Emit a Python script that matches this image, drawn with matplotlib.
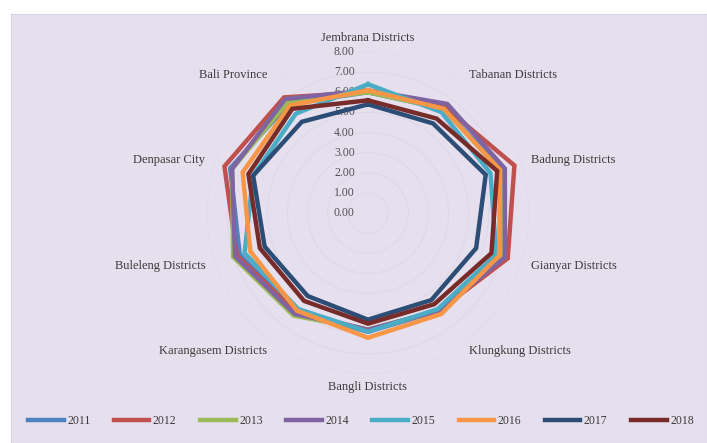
import numpy as np
import matplotlib
matplotlib.use("Agg")
import matplotlib.pyplot as plt
from matplotlib.patches import Rectangle

categories = ["Jembrana Districts", "Tabanan Districts", "Badung Districts", "Gianyar Districts",
              "Klungkung Districts", "Bangli Districts", "Karangasem Districts", "Buleleng Districts",
              "Denpasar City", "Bali Province"]
years = ["2011", "2012", "2013", "2014", "2015", "2016", "2017", "2018"]

v2011 = [6.0, 6.4, 7.0, 7.0, 6.0, 5.9, 6.1, 6.7, 7.2, 6.7]
v2012 = [6.0, 6.5, 7.65, 7.3, 6.0, 5.8, 6.1, 6.85, 7.5, 7.1]
v2013 = [6.0, 6.4, 6.9, 7.0, 6.0, 5.8, 6.3, 7.05, 7.1, 6.8]
v2014 = [6.1, 6.7, 7.15, 7.15, 6.0, 5.8, 6.2, 6.95, 7.1, 7.0]
v2015 = [6.4, 6.2, 6.4, 6.7, 5.9, 5.9, 5.9, 6.45, 6.0, 6.1]
v2016 = [6.1, 6.4, 6.9, 6.85, 6.2, 6.2, 6.0, 6.15, 6.55, 6.6]
v2017 = [5.4, 5.5, 6.15, 5.65, 5.35, 5.3, 5.1, 5.4, 6.0, 5.6]
v2018 = [5.6, 5.8, 6.75, 6.45, 5.6, 5.5, 5.4, 5.65, 6.25, 6.4]
series = [v2011, v2012, v2013, v2014, v2015, v2016, v2017, v2018]
ticks = [0, 1, 2, 3, 4, 5, 6, 7, 8]
tick_labels = ["0.00", "1.00", "2.00", "3.00", "4.00", "5.00", "6.00", "7.00", "8.00"]

colors = ["#4F81BD", "#C0504D", "#9BBB59", "#8064A2", "#4BACC6", "#F79646", "#2C4D75", "#772C2A"]

plt.rcParams['font.family'] = ['Liberation Serif', 'DejaVu Serif']

W, H = 707, 443
fig = plt.figure(figsize=(W / 100, H / 100), dpi=100)
fig.patch.set_facecolor("white")
bg = "#E6E0EE"
fig.add_artist(Rectangle((11 / W, 0), 1 - 11 / W, 1 - 14 / H, transform=fig.transFigure,
                         facecolor=bg, edgecolor="#D8D2E2", lw=0.8, zorder=-10))

cx, cy, R = 368, 213, 161
ax = fig.add_axes([(cx - R) / W, (H - cy - R) / H, 2 * R / W, 2 * R / H], projection="polar")
ax.set_facecolor("none")
ax.set_theta_offset(np.pi / 2)
ax.set_theta_direction(-1)
ax.set_ylim(0, 8)
ax.spines["polar"].set_visible(False)
ax.set_xticks([])
ax.set_yticks(ticks[1:])
ax.set_yticklabels([])
ax.yaxis.grid(True, color="#DDD7E7", lw=0.7)
ax.xaxis.grid(False)

n = len(categories)
angles = np.arange(n) * 2 * np.pi / n
ang_closed = np.concatenate([angles, angles[:1]])

for vals, col, yr in zip(series, colors, years):
    v = np.asarray(vals + vals[:1])
    ax.plot(ang_closed, v, color=col, lw=3.2, label=yr, solid_joinstyle="miter", zorder=3)

for t, lab in zip(ticks, tick_labels):
    ax.annotate(lab, xy=(0, t), xytext=(-17, 0), textcoords="offset points",
                ha="center", va="center", fontsize=8.5, color="#505050", zorder=2)

label_r = 8.5
for a, lab in zip(angles, categories):
    deg = np.degrees(a) % 360
    if deg < 1 or abs(deg - 180) < 1:
        ha = "center"
    elif deg < 180:
        ha = "left"
    else:
        ha = "right"
    r = label_r
    va = "center"
    if deg < 1:
        va = "bottom"
        r = 8.42
    elif abs(deg - 180) < 1:
        va = "top"
        r = 8.35
    ax.text(a, r, lab, ha=ha, va=va, fontsize=9, color="#3A3A3A")

leg = fig.legend(loc="center", bbox_to_anchor=(361 / W, 1 - 421 / H), ncol=8, frameon=False,
                 fontsize=8.5, handlelength=3.0, columnspacing=2.0, handletextpad=0.3)
for line in leg.get_lines():
    line.set_linewidth(3.2)
for txt in leg.get_texts():
    txt.set_color("#3A3A3A")

fig.savefig("out.png", dpi=100, facecolor=fig.get_facecolor())
